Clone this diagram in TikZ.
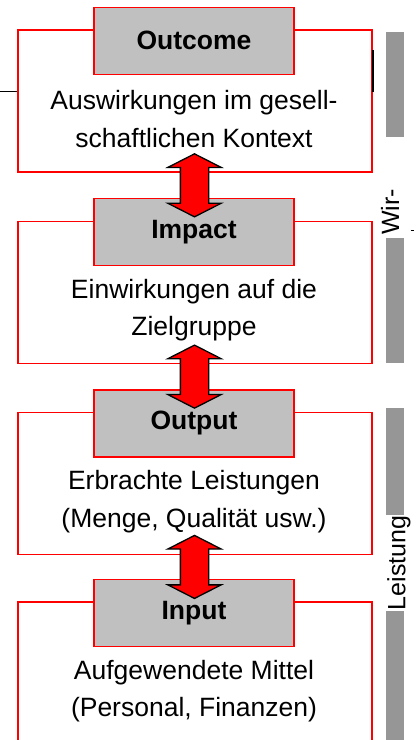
\documentclass[tikz,border=0pt]{standalone}
\usepackage{fontspec}
\setmainfont{Liberation Sans}
\usetikzlibrary{positioning,calc,shapes.arrows}
\definecolor{hdrgray}{RGB}{192,192,192}
\definecolor{bargray}{RGB}{150,150,150}

\begin{document}
\begin{tikzpicture}[x=1pt,y=-1pt,node distance=48pt,
  stage/.style={draw=red,line width=1.3pt,minimum width=354pt,minimum height=142pt,inner sep=0},
  header/.style={draw=red,line width=1.3pt,fill=hdrgray,minimum width=200pt,minimum height=67pt,inner sep=0,font=\fontsize{26.5}{30}\selectfont\bfseries},
  body/.style={align=center,inner sep=0,font=\fontsize{26.5}{37.5}\selectfont},
  link/.style={double arrow,draw=black,fill=red,line width=1.3pt,rotate=90,minimum height=63pt,inner xsep=0,inner ysep=13.5pt,double arrow head extend=12.5pt,double arrow tip angle=126},
  sidebar/.style={fill=bargray,minimum width=18pt,inner sep=0},
  side/.style={rotate=90,inner sep=0,font=\fontsize{25}{30}\selectfont}]
  \useasboundingbox (0,0) rectangle (420,740);

  % outer boxes
  \node[stage] (outcome) at (195,101) {};
  \node[stage, below=of outcome] (impact) {};
  \node[stage, below=of impact] (output) {};
  \node[stage, below=46pt of output] (input) {};

  % headers
  \node[header] (outcomehdr) at ([xshift=-1pt,yshift=-11.5pt]outcome.north) {Outcome};
  \node[header] (impacthdr) at ([xshift=-1pt,yshift=-11.5pt]impact.north) {Impact};
  \node[header] (outputhdr) at ([xshift=-1pt,yshift=-11.5pt]output.north) {Output};
  \node[header] (inputhdr) at ([xshift=-1pt,yshift=-11.5pt]input.north) {Input};

  % texts
  \node[body] (outcometxt) at ([yshift=-44pt]outcomehdr.south) {Auswirkungen im gesell-\\schaftlichen Kontext};
  \node[body] (impacttxt) at ([yshift=-44pt]impacthdr.south) {Einwirkungen auf die\\Zielgruppe};
  \node[body] (outputtxt) at ([yshift=-44pt]outputhdr.south) {Erbrachte Leistungen\\(Menge, Qualität usw.)};
  \node[body] (inputtxt) at ([yshift=-44pt]inputhdr.south) {Aufgewendete Mittel\\(Personal, Finanzen)};

  % arrows
  \node[link] (arrow1) at ($(outcome.south)!0.5!(impacthdr.north)$) {};
  \node[link] (arrow2) at ($(impact.south)!0.5!(outputhdr.north)$) {};
  \node[link] (arrow3) at ($(output.south)!0.5!(inputhdr.north)$) {};

  % right side
  \node[sidebar, minimum height=105pt] (bar1) at (395,84.5) {};
  \node[sidebar, minimum height=125pt] (bar2) at (395,300.5) {};
  \node[sidebar, minimum height=107pt] (bar3) at (395,461.5) {};
  \node[sidebar, minimum height=129pt] (bar4) at (395,675.5) {};
  \node[side] (wir) at (390,212) {Wir-};
  \node[side] (leistung) at (399,563) {Leistung};
  \draw[line width=1pt] (410.5,230.5) -- (413.5,230.5);

  % cut-off lines
  \draw[line width=0.8pt] (0,91) -- (outcome.west |- 0,91);
  \draw[line width=2pt] (373,50) -- (373,92);
\end{tikzpicture}
\end{document}
